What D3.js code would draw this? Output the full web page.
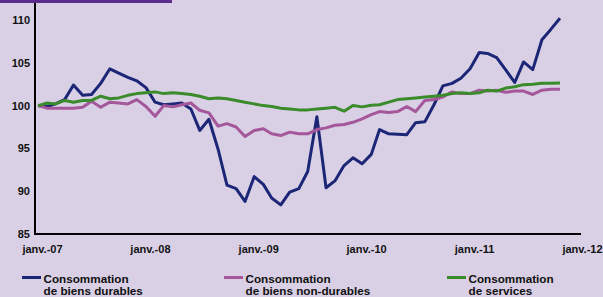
<!DOCTYPE html>
<html lang="fr">
<head>
<meta charset="UTF-8">
<title>Consommation</title>
<script src="https://d3js.org/d3.v7.min.js"></script>
<style>
  html, body { margin: 0; padding: 0; background: #d9d0e5; }
  svg { display: block; font-family: Arial, "Liberation Sans", sans-serif; font-weight: bold; }
  .tick text { font-size: 11px; fill: #111; }
  .legend text { font-size: 11.7px; fill: #111; }
</style>
</head>
<body>
<svg width="603" height="297"></svg>
<script>
  // monthly index, janv. 2007 = 100, Jan 2007 .. Nov 2011
  var startMonth = new Date(2007, 0, 1);
  var yTicks = [85, 90, 95, 100, 105, 110];
  var xTickYears = [2007, 2008, 2009, 2010, 2011, 2012];

  var durables = [100.0, 99.9, 100.2, 100.7, 102.4, 101.2, 101.3, 102.6, 104.3, 103.8,
    103.3, 102.9, 102.1, 100.4, 100.1, 100.2, 100.3, 99.6, 97.1, 98.4,
    94.9, 90.7, 90.3, 88.8, 91.7, 90.8, 89.2, 88.4, 89.9, 90.3,
    92.3, 98.7, 90.4, 91.2, 93.0, 93.9, 93.2, 94.3, 97.2, 96.7,
    96.65, 96.6, 98.0, 98.1, 100.1, 102.3, 102.6, 103.2, 104.3, 106.2,
    106.1, 105.6, 104.2, 102.7, 105.1, 104.2, 107.7, 108.9, 110.2];

  var nonDurables = [100.0, 99.7, 99.7, 99.7, 99.7, 99.8, 100.5, 99.8, 100.4, 100.3,
    100.2, 100.7, 99.9, 98.75, 100.0, 99.85, 100.1, 100.3, 99.45, 99.15,
    97.6, 97.9, 97.5, 96.4, 97.1, 97.3, 96.7, 96.5, 96.9, 96.7,
    96.7, 97.2, 97.4, 97.7, 97.8, 98.05, 98.45, 98.95, 99.3, 99.2,
    99.3, 99.9, 99.3, 100.6, 100.7, 101.0, 101.6, 101.4, 101.4, 101.8,
    101.7, 101.8, 101.55, 101.7, 101.7, 101.3, 101.8, 101.9, 101.9];

  var services = [100.0, 100.3, 100.2, 100.6, 100.4, 100.6, 100.6, 101.1, 100.8, 100.9,
    101.2, 101.4, 101.5, 101.6, 101.4, 101.5, 101.4, 101.3, 101.1, 100.8,
    100.9, 100.8, 100.6, 100.4, 100.2, 100.0, 99.9, 99.7, 99.6, 99.5,
    99.5, 99.6, 99.7, 99.8, 99.35, 100.0, 99.85, 100.05, 100.1, 100.4,
    100.7, 100.8, 100.9, 101.0, 101.1, 101.2, 101.4, 101.5, 101.4, 101.5,
    101.8, 101.7, 102.05, 102.2, 102.45, 102.5, 102.6, 102.6, 102.65];

  var seriesNames = [["Consommation", "de biens durables"],
                     ["Consommation", "de biens non-durables"],
                     ["Consommation", "de services"]];
  var seriesColors = ["#1c2677", "#a5579b", "#3a8c2b"];

  var months = durables.map(function(d, i) { return d3.timeMonth.offset(startMonth, i); });

  var svg = d3.select("svg");

  // purple strip at the top
  svg.append("rect").attr("x", 0).attr("y", 0).attr("width", 172).attr("height", 3)
    .attr("fill", "#5b2c8b");

  var x = d3.scaleTime()
    .domain([new Date(2007, 0, 1), new Date(2012, 0, 1)])
    .range([38, 578]);
  var y = d3.scaleLinear().domain([85, 110]).range([234, 20]);

  var frFmt = function(d) { return "janv.-" + d3.timeFormat("%y")(d); };

  var xAxis = svg.append("g")
    .attr("transform", "translate(0,234)")
    .call(d3.axisBottom(x)
      .tickValues(xTickYears.map(function(yr) { return new Date(yr, 0, 1); }))
      .tickFormat(frFmt).tickSize(0).tickPadding(11));
  xAxis.select(".domain").remove();
  xAxis.selectAll("text").attr("dx", 4);

  var yAxis = svg.append("g")
    .attr("transform", "translate(35,0)")
    .call(d3.axisLeft(y).tickValues(yTicks).tickSize(0).tickPadding(5));
  yAxis.select(".domain").remove();

  var line = d3.line()
    .x(function(d, i) { return x(months[i]); })
    .y(function(d) { return y(d); });

  [durables, nonDurables, services].forEach(function(s, k) {
    svg.append("path")
      .datum(s)
      .attr("fill", "none")
      .attr("stroke", seriesColors[k])
      .attr("stroke-width", 3)
      .attr("stroke-linejoin", "round")
      .attr("d", line);
  });

  // axis lines
  svg.append("line").attr("x1", 35).attr("x2", 35).attr("y1", 3).attr("y2", 235)
    .attr("stroke", "#000").attr("stroke-width", 2);
  svg.append("line").attr("x1", 34).attr("x2", 581).attr("y1", 234).attr("y2", 234)
    .attr("stroke", "#000").attr("stroke-width", 2);

  // legend
  var legendX = [22, 224, 447];
  var legend = svg.append("g").attr("class", "legend");
  seriesNames.forEach(function(nm, k) {
    var g = legend.append("g").attr("transform", "translate(" + legendX[k] + ",0)");
    g.append("line").attr("x1", 0).attr("x2", 19).attr("y1", 277.5).attr("y2", 277.5)
      .attr("stroke", seriesColors[k]).attr("stroke-width", 3);
    g.append("text").attr("x", 21.5).attr("y", 282.5).text(nm[0]);
    g.append("text").attr("x", 21.5).attr("y", 295).text(nm[1]);
  });
</script>
</body>
</html>
